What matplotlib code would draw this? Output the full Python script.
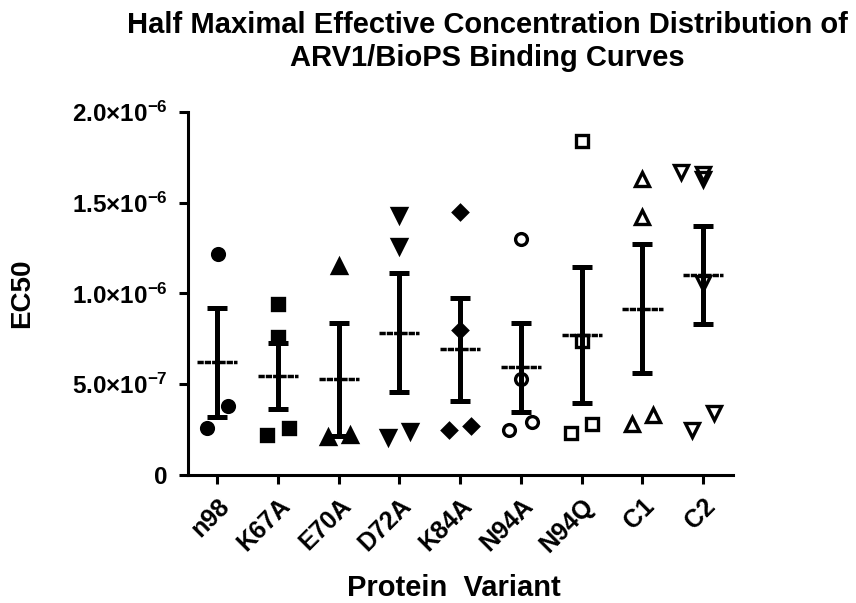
import numpy as np
import matplotlib
matplotlib.use("Agg")
import matplotlib.pyplot as plt

# EC50 values per protein variant (units of 1e-6 M)
variants = ["n98", "K67A", "E70A", "D72A", "K84A", "N94A", "N94Q", "C1", "C2"]
ec50_n98 = [1.22, 0.26, 0.38]
ec50_k67a = [0.94, 0.76, 0.22, 0.26]
ec50_e70a = [1.15, 0.21, 0.22]
ec50_d72a = [1.43, 1.26, 0.21, 0.24]
ec50_k84a = [1.45, 0.80, 0.25, 0.27]
ec50_n94a = [1.30, 0.53, 0.25, 0.29]
ec50_n94q = [1.84, 0.74, 0.23, 0.28]
ec50_c1 = [1.63, 1.42, 0.28, 0.33]
ec50_c2 = [1.67, 1.66, 1.63, 1.06, 0.25, 0.34]
series = [ec50_n98, ec50_k67a, ec50_e70a, ec50_d72a, ec50_k84a,
          ec50_n94a, ec50_n94q, ec50_c1, ec50_c2]

# horizontal scatter so overlapping points stay visible
jitter = [
    [0.02, -0.17, 0.18],
    [0, 0, -0.18, 0.18],
    [0, -0.18, 0.18],
    [0, 0, -0.18, 0.18],
    [0, 0, -0.18, 0.18],
    [0, 0, -0.2, 0.18],
    [0, 0, -0.18, 0.17],
    [0, 0, -0.18, 0.17],
    [-0.36, 0, 0, 0, -0.18, 0.18],
]
markers = ["o", "s", "^", "v", "D", "o", "s", "^", "v"]
msizes = [8.5, 8, 9.5, 9.5, 7.5, 8.5, 8, 9.5, 9.5]
filled = [True] * 5 + [False] * 4

plt.rcParams["font.family"] = ["Liberation Sans", "DejaVu Sans"]
plt.rcParams["font.weight"] = "bold"
plt.rcParams["mathtext.fontset"] = "custom"
plt.rcParams["mathtext.rm"] = "Liberation Sans:bold"
plt.rcParams["mathtext.it"] = "Liberation Sans:bold"
plt.rcParams["mathtext.bf"] = "Liberation Sans:bold"
plt.rcParams["mathtext.sf"] = "Liberation Sans:bold"

fig = plt.figure(figsize=(8.56, 6.03), dpi=100)
ax = fig.add_axes([0.2196, 0.2123, 0.6367, 0.602])

for i, (vals, offs) in enumerate(zip(series, jitter)):
    y = np.array(vals) * 1e-6
    x = i + np.array(offs)
    ax.plot(x, y, ls="none", marker=markers[i], ms=msizes[i],
            mfc="black" if filled[i] else "none", mec="black",
            mew=2.4, zorder=3)
    mean = y.mean()
    sem = y.std(ddof=1) / np.sqrt(len(y))
    ax.errorbar(i, mean, yerr=sem, fmt="none", ecolor="black",
                elinewidth=3.6, capsize=7.5, capthick=3.6, zorder=4)
    ax.hlines(mean, i - 0.33, i + 0.33, color="black", lw=2.5,
              linestyles=(0, (1.8, 0.3)), zorder=4)

ax.set_xlim(-0.48, 8.49)
ax.set_ylim(0, 2e-6)
ax.set_yticks([0, 5e-7, 1e-6, 1.5e-6, 2e-6])
ax.set_yticklabels(["0", r"$5.0{\times}10^{-7}$", r"$1.0{\times}10^{-6}$",
                    r"$1.5{\times}10^{-6}$", r"$2.0{\times}10^{-6}$"],
                   fontsize=17.5)
ax.set_xticks(range(len(variants)))
ax.set_xticklabels(variants, rotation=45, ha="right",
                   rotation_mode="anchor", fontsize=18)

for side in ["top", "right"]:
    ax.spines[side].set_visible(False)
for side in ["left", "bottom"]:
    ax.spines[side].set_linewidth(2.2)
ax.tick_params(axis="both", direction="out", length=6.5, width=2.2)
ax.tick_params(axis="y", pad=8)
ax.tick_params(axis="x", pad=7)

ax.set_ylabel("EC50", fontsize=20, fontweight="bold")
ax.yaxis.set_label_coords(-0.281, 0.5)
ax.set_xlabel("Protein  Variant", fontsize=21, fontweight="bold")
ax.xaxis.set_label_coords(0.488, -0.273)

fig.text(0.569, 0.982,
         "Half Maximal Effective Concentration Distribution of\n"
         "ARV1/BioPS Binding Curves",
         ha="center", va="top", fontsize=21, fontweight="bold",
         linespacing=1.25)

fig.savefig("out.png", dpi=100)
plt.close(fig)
